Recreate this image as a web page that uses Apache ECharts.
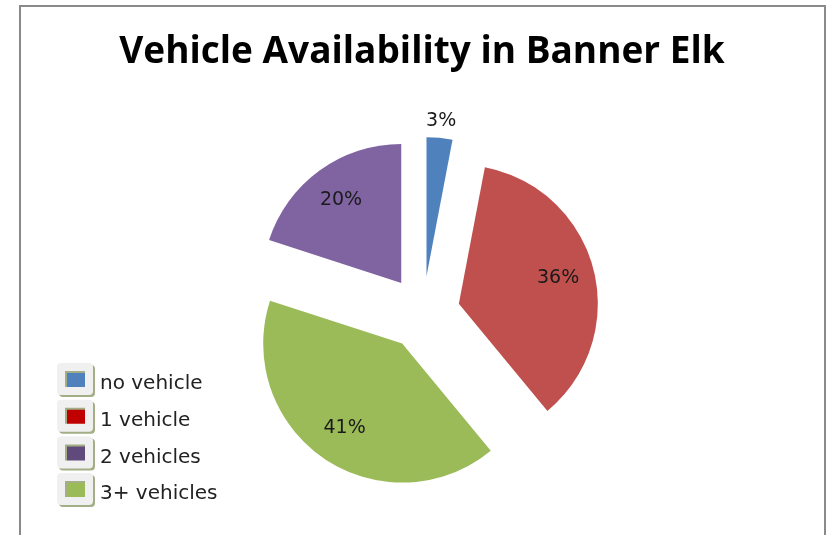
<!DOCTYPE html>
<html><head><meta charset="utf-8">
<script src="https://cdn.jsdelivr.net/npm/echarts@6/dist/echarts.min.js"></script>
<style>
html,body{margin:0;padding:0;background:#fff;overflow:hidden;width:830px;height:535px}
#frame{position:absolute;left:19px;top:5px;width:807px;height:600px;box-sizing:border-box;border:2px solid #8a8a8a;}
#chart{position:absolute;left:0;top:0;width:830px;height:535px}
</style></head><body><div id="frame"></div><div id="chart"></div>
<script>
const chartTitle = 'Vehicle Availability in Banner Elk';
// pie slices in drawing order (clockwise from 12 o'clock)
const pieNames = ['no vehicle', '1 vehicle', '3+ vehicles', '2 vehicles'];
const pieValues = [3, 36, 41, 20];
const sliceColors = ['#4F81BD', '#C0504D', '#9BBB59', '#8064A2'];
// legend entries
const legendNames = ['no vehicle', '1 vehicle', '2 vehicles', '3+ vehicles'];
const legendColors = ['#4F81BD', '#C00000', '#604A7B', '#9BBB59'];

const titleFont = {fontFamily: 'Open Sans', fontWeight: 'bold', fontSize: 37};
const titleCenterX = 422;
function textWidth(t, f) {
  const c = document.createElement('canvas').getContext('2d');
  c.font = f.fontWeight + ' ' + f.fontSize + 'px "' + f.fontFamily + '"';
  return c.measureText(t).width;
}

const chart = echarts.init(document.getElementById('chart'), null, {renderer: 'canvas'});
const clear = 'rgba(0,0,0,0)';
const labelFont = {fontFamily: 'DejaVu Sans', fontSize: 19, color: '#1a1a1a'};
const fmt = p => Math.round(p.percent) + '%';
const base = {
  type: 'pie', center: [423, 313], startAngle: 90, clockwise: true,
  selectedMode: 'multiple', selectedOffset: 37, avoidLabelOverlap: false,
  animation: false, silent: true, emphasis: {disabled: true},
  select: {itemStyle: {borderWidth: 0}}, labelLine: {show: false}
};
chart.setOption({
  animation: false,
  title: {
    text: chartTitle, left: titleCenterX - textWidth(chartTitle, titleFont) / 2, top: 34, padding: 0,
    textStyle: Object.assign({color: '#000'}, titleFont)
  },
  legend: {
    orient: 'vertical', left: 57, top: 363, padding: 0,
    itemWidth: 28, itemHeight: 24, itemGap: 4.7, icon: 'rect', selectedMode: false,
    formatter: name => '{t|' + name + '}',
    textStyle: {
      fontFamily: 'DejaVu Sans', fontSize: 20, color: '#222', padding: [0, 0, 0, 6],
      rich: {t: {fontFamily: 'DejaVu Sans', fontSize: 20, color: '#222', lineHeight: 30, verticalAlign: 'bottom'}}
    },
    data: legendNames.map((n, i) => ({
      name: n,
      itemStyle: {color: legendColors[i], borderColor: '#f0f0f0', borderWidth: 8,
        shadowColor: '#a3ad86', shadowOffsetX: 2, shadowOffsetY: 2, shadowBlur: 0}
    }))
  },
  series: [
    Object.assign({}, base, {
      name: 'slices', radius: [0, 139],
      label: {show: false},
      data: pieNames.map((n, i) => ({name: n, value: pieValues[i], selected: true,
        itemStyle: {color: sliceColors[i], borderWidth: 0}}))
    }),
    Object.assign({}, base, {
      name: 'inner labels', radius: [60, 139],
      label: Object.assign({position: 'inside', formatter: fmt}, labelFont),
      data: pieNames.map((n, i) => ({name: n, value: pieValues[i], selected: true,
        itemStyle: {color: clear}, label: {show: pieValues[i] >= 10}}))
    }),
    Object.assign({}, base, {
      name: 'outer labels', radius: [139, 166],
      label: Object.assign({position: 'inside', formatter: fmt}, labelFont),
      data: pieNames.map((n, i) => ({name: n, value: pieValues[i], selected: true,
        itemStyle: {color: clear}, label: {show: pieValues[i] < 10}}))
    })
  ]
});
</script></body></html>
